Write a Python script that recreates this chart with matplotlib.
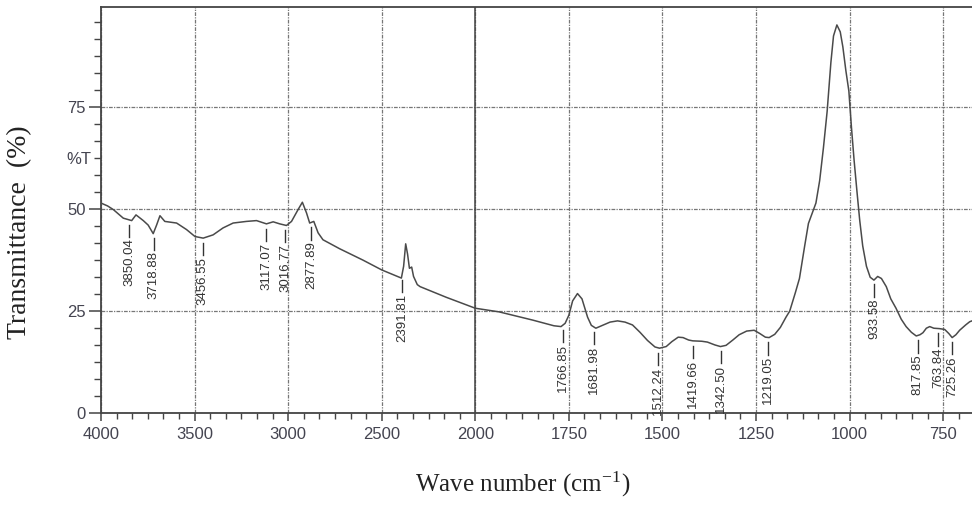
import numpy as np
import matplotlib
matplotlib.use('Agg')
import matplotlib.pyplot as plt
from matplotlib import font_manager
from matplotlib.ticker import FixedLocator, FuncFormatter

# spectrum (wave number, %T)
wavenumber = [4000, 3965, 3934, 3881, 3836, 3813, 3774, 3748, 3721, 3703, 3685, 3659,
              3596, 3543, 3498, 3454, 3401, 3348, 3294, 3223, 3169, 3116, 3080, 3045,
              3009, 2982, 2947, 2924, 2902, 2885, 2863, 2840, 2814, 2725, 2600, 2500,
              2395, 2383, 2372, 2362, 2352, 2340, 2330, 2310, 2295, 2156, 2000, 1936,
              1847, 1790, 1771, 1760, 1750, 1740, 1727, 1715, 1700, 1690, 1678, 1660,
              1640, 1620, 1600, 1580, 1560, 1540, 1520, 1508, 1490, 1475, 1458, 1445,
              1430, 1419, 1395, 1380, 1360, 1345, 1330, 1312, 1295, 1275, 1255, 1240,
              1225, 1215, 1200, 1185, 1170, 1160, 1145, 1134, 1120, 1110, 1100, 1090,
              1080, 1070, 1060, 1050, 1043, 1034, 1025, 1018, 1010, 1002, 995, 988,
              980, 973, 965, 955, 945, 935, 925, 915, 902, 890, 876, 862, 849, 835,
              822, 812, 804, 795, 786, 775, 760, 746, 735, 726, 716, 706, 690, 679, 670]
transmittance = [51.5, 50.8, 49.9, 47.8, 47.2, 48.6, 47.2, 46.1, 44.0, 46.1, 48.4, 47.0,
                 46.6, 45.0, 43.3, 42.9, 43.7, 45.4, 46.6, 47.0, 47.2, 46.4, 46.9, 46.4,
                 46.0, 47.0, 49.9, 51.7, 49.1, 46.6, 47.0, 44.2, 42.5, 40.3, 37.5, 35.1,
                 33.1, 36.0, 41.5, 39.0, 35.5, 35.8, 33.5, 31.5, 31.0, 28.4, 25.7, 24.8,
                 22.8, 21.4, 21.2, 22.0, 24.0, 27.5, 29.3, 28.0, 23.5, 21.5, 20.8, 21.5,
                 22.3, 22.6, 22.3, 21.6, 19.8, 17.8, 16.2, 15.9, 16.3, 17.5, 18.6, 18.5,
                 17.9, 17.7, 17.6, 17.4, 16.7, 16.3, 16.6, 17.9, 19.2, 20.1, 20.3, 19.5,
                 18.6, 18.5, 19.3, 21.0, 23.5, 25.0, 29.5, 33.0, 41.0, 46.5, 49.0, 51.5,
                 57.0, 65.0, 74.0, 86.0, 92.5, 95.2, 93.5, 89.8, 84.0, 79.0, 70.0, 62.0,
                 54.0, 47.3, 41.0, 36.0, 33.3, 32.6, 33.5, 33.0, 31.0, 28.0, 25.7, 23.0,
                 21.2, 19.8, 18.9, 19.2, 19.7, 20.8, 21.2, 20.8, 20.7, 20.5, 19.5, 18.5,
                 19.2, 20.3, 21.6, 22.4, 22.7]

peaks = [3850.04, 3718.88, 3456.55, 3117.07, 3016.77, 2877.89, 2391.81, 1766.85,
         1681.98, 1512.24, 1419.66, 1342.50, 1219.05, 933.58, 817.85, 763.84, 725.26]

x_major = [4000, 3500, 3000, 2500, 2000, 1750, 1500, 1250, 1000, 750]
y_major = [0, 25, 50, 75]

names = {f.name for f in font_manager.fontManager.ttflist}
tick_font = 'Liberation Sans Narrow' if 'Liberation Sans Narrow' in names else 'Liberation Sans'
tick_size = 13 if tick_font == 'Liberation Sans Narrow' else 12
plt.rcParams['mathtext.fontset'] = 'stix'


# scale changes at 2000: half the compression below it
def fwd(x):
    x = np.asarray(x, dtype=float)
    return np.where(x >= 2000, x, 2 * x - 2000)


def inv(u):
    u = np.asarray(u, dtype=float)
    return np.where(u >= 2000, u, (u + 2000) / 2)


fig = plt.figure(figsize=(9.72, 5.08), dpi=100)
ax = fig.add_axes([101 / 972, 95 / 508, 871 / 972, 406 / 508])
ax.set_xscale('function', functions=(fwd, inv))
ax.set_xlim(4000, 673)
ax.set_ylim(0, 99.6)

line_col = '#4a4a4a'
ax.plot(wavenumber, transmittance, color=line_col, lw=1.1, zorder=3)

# peak markers
wn_up = np.array(wavenumber[::-1])
t_up = np.array(transmittance[::-1])
for p in peaks:
    t = np.interp(p, wn_up, t_up)
    ax.plot([p, p], [t - 1.2, t - 4.2], color='#333333', lw=1.0, zorder=3)
    ax.text(p, t - 4.6, f'{p:.2f}', rotation=90, ha='center', va='top',
            fontsize=9.5, color='#333333', family='Liberation Sans')

# ticks
minor_x = list(np.arange(4000, 2000, -500 / 6)) + list(np.arange(2000, 660, -250 / 6))
ax.xaxis.set_major_locator(FixedLocator(x_major))
ax.xaxis.set_minor_locator(FixedLocator(minor_x))
ax.yaxis.set_major_locator(FixedLocator(y_major))
ax.yaxis.set_minor_locator(FixedLocator(list(np.arange(0, 99, 25 / 6))))
ax.xaxis.set_major_formatter(FuncFormatter(lambda v, pos: f'{v:.0f}'))
ax.yaxis.set_major_formatter(FuncFormatter(lambda v, pos: f'{v:.0f}'))
ax.yaxis.set_minor_formatter(FuncFormatter(lambda v, pos: '%T' if abs(v - 62.5) < 0.1 else ''))

tick_col = '#444450'
ax.tick_params(axis='x', which='major', direction='out', length=6, width=1.1, color='#444444',
               labelsize=tick_size, labelcolor=tick_col, pad=4)
ax.tick_params(axis='x', which='minor', direction='out', length=4.5, width=1.0, color='#444444')
ax.tick_params(axis='y', which='major', direction='out', length=9, width=1.1, color='#444444',
               labelsize=tick_size, labelcolor=tick_col, pad=2)
ax.tick_params(axis='y', which='minor', direction='out', length=5, width=1.0, color='#444444',
               labelsize=tick_size, labelcolor=tick_col, pad=2)
for lab in ax.get_xticklabels() + ax.get_yticklabels() + ax.get_yticklabels(minor=True):
    lab.set_family(tick_font)

# grid
ax.grid(True, which='major', color='#777777', lw=0.9, linestyle=(0, (3, 1, 1, 1)))
ax.axvline(2000, color='#444444', lw=1.1, zorder=2)

for side in ['left', 'bottom', 'top']:
    ax.spines[side].set_color('#444444')
    ax.spines[side].set_linewidth(1.3)
ax.spines['right'].set_visible(False)

ax.set_ylabel('Transmittance  (%)', family='Liberation Serif', fontsize=20, color='#222222')
ax.yaxis.set_label_coords(-0.093, 0.446)
ax.set_xlabel('Wave number (cm$^{\\mathdefault{-1}}$)', family='Liberation Serif', fontsize=18,
              color='#222222')
ax.xaxis.set_label_coords(0.4845, -0.175)
ax.xaxis.label.set_va('center')
ax.yaxis.label.set_va('center')

fig.savefig('out.png', dpi=100)
